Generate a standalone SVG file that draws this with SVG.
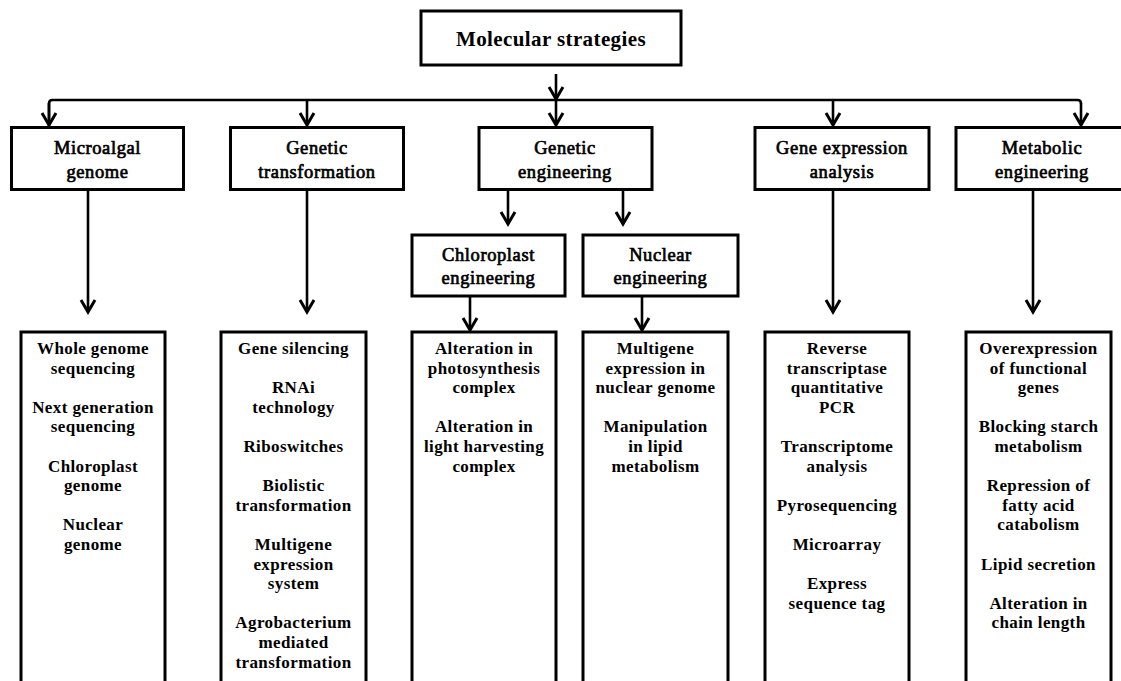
<svg xmlns="http://www.w3.org/2000/svg" width="1121" height="681" viewBox="0 0 1121 681">
<style>
.box{fill:#fff;stroke:#000;stroke-width:3;}
.ln{fill:none;stroke:#000;stroke-width:2.6;}
.arr{fill:none;stroke:#000;stroke-width:2.6;marker-end:url(#ah);}
text{font-family:"Liberation Serif","Times New Roman",serif;fill:#000;text-anchor:middle;}
.top{font-size:21px;font-weight:bold;letter-spacing:0.4px;}
.l2{font-size:18.5px;font-weight:normal;stroke:#000;stroke-width:0.7;letter-spacing:0.6px;}
.l3{font-size:17px;font-weight:bold;letter-spacing:0.4px;}
</style>
<defs>
<marker id="ah" markerUnits="userSpaceOnUse" viewBox="-16 -10 18 20" markerWidth="18" markerHeight="20" refX="0" refY="0" orient="auto" overflow="visible">
<path d="M-12,-7 L0,0 L-12,7" fill="none" stroke="#000" stroke-width="3" stroke-linejoin="miter"/>
</marker>
</defs>
<rect width="1121" height="681" fill="#fff"/>

<g id="connectors">
<path class="ln" d="M49,126 L49,103.5 Q49,100 52.5,100 L1077.5,100 Q1081,100 1081,103.5"/>
<path class="arr" d="M556,74 V99"/>
<path class="arr" d="M49,103 V125"/>
<path class="arr" d="M307,100 V125"/>
<path class="arr" d="M556,100 V125"/>
<path class="arr" d="M833,100 V125"/>
<path class="arr" d="M1081,103 V125"/>
<path class="arr" d="M88,190 V312"/>
<path class="arr" d="M307,190 V312"/>
<path class="arr" d="M833,190 V312"/>
<path class="arr" d="M1033,190 V312"/>
<path class="arr" d="M508,190 V224"/>
<path class="arr" d="M623,190 V224"/>
<path class="arr" d="M470,296 V330"/>
<path class="arr" d="M642,296 V330"/>
</g>

<g id="molecular-strategies">
<rect class="box" x="421" y="11" width="260" height="54"/>
<text class="top" x="551" y="46">Molecular strategies</text>
</g>

<g id="microalgal-genome">
<rect class="box" x="11.5" y="127.5" width="172" height="62"/>
<text class="l2" x="97.5"><tspan x="97.5" y="154">Microalgal</tspan><tspan x="97.5" y="178">genome</tspan></text>
</g>
<g id="genetic-transformation">
<rect class="box" x="230.5" y="127.5" width="173" height="62"/>
<text class="l2" x="317"><tspan x="317" y="154">Genetic</tspan><tspan x="317" y="178">transformation</tspan></text>
</g>
<g id="genetic-engineering">
<rect class="box" x="479" y="127.5" width="173" height="62"/>
<text class="l2" x="565"><tspan x="565" y="154">Genetic</tspan><tspan x="565" y="178">engineering</tspan></text>
</g>
<g id="gene-expression-analysis">
<rect class="box" x="755" y="127.5" width="174" height="62"/>
<text class="l2" x="842"><tspan x="842" y="154">Gene expression</tspan><tspan x="842" y="178">analysis</tspan></text>
</g>
<g id="metabolic-engineering">
<rect class="box" x="956" y="127.5" width="174" height="62"/>
<text class="l2" x="1042"><tspan x="1042" y="154">Metabolic</tspan><tspan x="1042" y="178">engineering</tspan></text>
</g>

<g id="chloroplast-engineering">
<rect class="box" x="412" y="235" width="153" height="61"/>
<text class="l2" x="488.5"><tspan x="488.5" y="261">Chloroplast</tspan><tspan x="488.5" y="284">engineering</tspan></text>
</g>
<g id="nuclear-engineering">
<rect class="box" x="583" y="235" width="155" height="61"/>
<text class="l2" x="660.5"><tspan x="660.5" y="261">Nuclear</tspan><tspan x="660.5" y="284">engineering</tspan></text>
</g>

<g id="genome-list">
<rect class="box" x="21" y="332" width="144" height="360"/>
<text class="l3"><tspan x="93" y="354">Whole genome</tspan><tspan x="93" y="373.6">sequencing</tspan><tspan x="93" y="412.8">Next generation</tspan><tspan x="93" y="432.4">sequencing</tspan><tspan x="93" y="471.6">Chloroplast</tspan><tspan x="93" y="491.2">genome</tspan><tspan x="93" y="530.4">Nuclear</tspan><tspan x="93" y="550">genome</tspan></text>
</g>
<g id="transformation-list">
<rect class="box" x="221" y="332" width="145" height="360"/>
<text class="l3"><tspan x="293.5" y="354">Gene silencing</tspan><tspan x="293.5" y="393.2">RNAi</tspan><tspan x="293.5" y="412.8">technology</tspan><tspan x="293.5" y="452">Riboswitches</tspan><tspan x="293.5" y="491.2">Biolistic</tspan><tspan x="293.5" y="510.8">transformation</tspan><tspan x="293.5" y="550">Multigene</tspan><tspan x="293.5" y="569.6">expression</tspan><tspan x="293.5" y="589.2">system</tspan><tspan x="293.5" y="628.4">Agrobacterium</tspan><tspan x="293.5" y="648">mediated</tspan><tspan x="293.5" y="667.6">transformation</tspan></text>
</g>
<g id="chloroplast-list">
<rect class="box" x="412" y="332" width="144" height="360"/>
<text class="l3"><tspan x="484" y="354">Alteration in</tspan><tspan x="484" y="373.6">photosynthesis</tspan><tspan x="484" y="393.2">complex</tspan><tspan x="484" y="432.4">Alteration in</tspan><tspan x="484" y="452">light harvesting</tspan><tspan x="484" y="471.6">complex</tspan></text>
</g>
<g id="nuclear-list">
<rect class="box" x="583" y="332" width="145" height="360"/>
<text class="l3"><tspan x="655.5" y="354">Multigene</tspan><tspan x="655.5" y="373.6">expression in</tspan><tspan x="655.5" y="393.2">nuclear genome</tspan><tspan x="655.5" y="432.4">Manipulation</tspan><tspan x="655.5" y="452">in lipid</tspan><tspan x="655.5" y="471.6">metabolism</tspan></text>
</g>
<g id="expression-list">
<rect class="box" x="765" y="332" width="144" height="360"/>
<text class="l3"><tspan x="837" y="354">Reverse</tspan><tspan x="837" y="373.6">transcriptase</tspan><tspan x="837" y="393.2">quantitative</tspan><tspan x="837" y="412.8">PCR</tspan><tspan x="837" y="452">Transcriptome</tspan><tspan x="837" y="471.6">analysis</tspan><tspan x="837" y="510.8">Pyrosequencing</tspan><tspan x="837" y="550">Microarray</tspan><tspan x="837" y="589.2">Express</tspan><tspan x="837" y="608.8">sequence tag</tspan></text>
</g>
<g id="metabolic-list">
<rect class="box" x="966" y="332" width="145" height="360"/>
<text class="l3"><tspan x="1038.5" y="354">Overexpression</tspan><tspan x="1038.5" y="373.6">of functional</tspan><tspan x="1038.5" y="393.2">genes</tspan><tspan x="1038.5" y="432.4">Blocking starch</tspan><tspan x="1038.5" y="452">metabolism</tspan><tspan x="1038.5" y="491.2">Repression of</tspan><tspan x="1038.5" y="510.8">fatty acid</tspan><tspan x="1038.5" y="530.4">catabolism</tspan><tspan x="1038.5" y="569.6">Lipid secretion</tspan><tspan x="1038.5" y="608.8">Alteration in</tspan><tspan x="1038.5" y="628.4">chain length</tspan></text>
</g>
</svg>
